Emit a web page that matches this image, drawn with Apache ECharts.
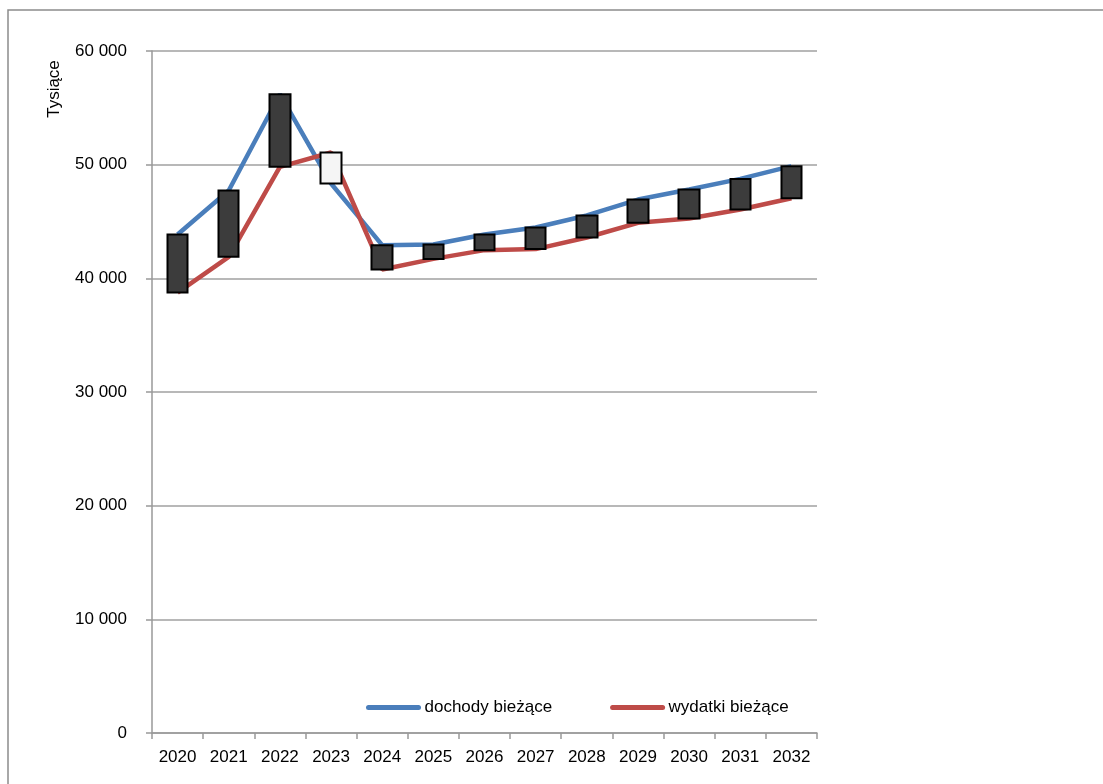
<!DOCTYPE html>
<html>
<head>
<meta charset="utf-8">
<script src="https://cdn.jsdelivr.net/npm/echarts@6/dist/echarts.min.js"></script>
<style>
html,body{margin:0;padding:0;background:#fff;}
#c{width:1103px;height:784px;}
</style>
</head>
<body>
<div id="c"></div>
<script>
const years = ['2020','2021','2022','2023','2024','2025','2026','2027','2028','2029','2030','2031','2032'];
const dochody = [43850, 47730, 56200, 48340, 42920, 42980, 43860, 44470, 45530, 46930, 47810, 48750, 49870];
const wydatki = [38750, 41890, 49810, 51070, 40780, 41710, 42480, 42570, 43590, 44880, 45260, 46060, 47050];
const yTicks = [0, 10000, 20000, 30000, 40000, 50000, 60000];
const seriesNames = ['dochody bieżące', 'wydatki bieżące'];
const yAxisTitle = 'Tysiące';

const FONT = '"Liberation Sans", Arial, sans-serif';
const FS = 17;
const fmt = v => String(v).replace(/\B(?=(\d{3})+(?!\d))/g, ' ');

const candle = dochody.map((d, i) => {
  const w = wydatki[i];
  return [d, w, Math.min(d, w), Math.max(d, w)];
});

const chart = echarts.init(document.getElementById('c'), null, {renderer: 'canvas'});
chart.setOption({
  animation: false,
  backgroundColor: '#fff',
  grid: {left: 152, right: 286, top: 51, bottom: 51, containLabel: false},
  graphic: [
    {type: 'rect', shape: {x: 8, y: 10, width: 1200, height: 900}, style: {fill: 'none', stroke: '#8c8c8c', lineWidth: 1.5}, silent: true},
    {type: 'text', x: 54, y: 89, rotation: Math.PI / 2, style: {text: yAxisTitle, font: FS + 'px ' + FONT, fill: '#000', textAlign: 'center', textVerticalAlign: 'middle'}}
  ],
  legend: {
    data: seriesNames,
    left: 361, top: 694,
    itemWidth: 56, itemHeight: 5, itemGap: 58,
    icon: 'path://M2.5,0 L52.5,0 A2.5,2.5 0 0 1 52.5,5 L2.5,5 A2.5,2.5 0 0 1 2.5,0 Z',
    textStyle: {fontFamily: FONT, fontSize: FS, color: '#000', padding: [0, 0, 0, -2]}
  },
  xAxis: {
    type: 'category', data: years, boundaryGap: true,
    axisLine: {lineStyle: {color: '#999', width: 1.5}},
    axisTick: {show: true, length: 6, inside: false, lineStyle: {color: '#999', width: 1.5}},
    axisLabel: {color: '#000', fontFamily: FONT, fontSize: FS, margin: 16, interval: 0},
    splitLine: {show: false}
  },
  yAxis: {
    type: 'value', min: yTicks[0], max: yTicks[yTicks.length - 1], interval: 10000,
    axisLine: {show: true, lineStyle: {color: '#999', width: 1.5}},
    axisTick: {show: true, length: 6, lineStyle: {color: '#999', width: 1.5}},
    axisLabel: {color: '#000', fontFamily: FONT, fontSize: FS, margin: 25, formatter: v => fmt(v)},
    splitLine: {show: true, lineStyle: {color: '#a0a0a0', width: 1.5}}
  },
  series: [
    {name: seriesNames[0], type: 'line', data: dochody, symbol: 'none', lineStyle: {color: '#4a7ebb', width: 4.5}, itemStyle: {color: '#4a7ebb'}, z: 2},
    {name: seriesNames[1], type: 'line', data: wydatki, symbol: 'none', lineStyle: {color: '#be4b48', width: 4.5}, itemStyle: {color: '#be4b48'}, z: 2},
    {name: 'bars', type: 'candlestick', data: candle, barWidth: 21, z: 3,
      itemStyle: {color: '#f5f5f5', color0: '#3c3c3c', borderColor: '#000', borderColor0: '#000', borderWidth: 2}}
  ]
});
</script>
</body>
</html>
